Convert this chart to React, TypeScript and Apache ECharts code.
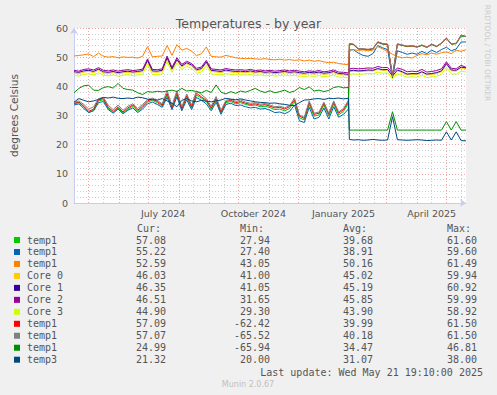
import React, { useEffect, useRef } from 'react';
import * as echarts from 'echarts';

// x = days since 2024-04-16 19:10 (graph spans 400 days, ending Wed May 21 19:10:00 2025)
const DAYS = [
  0, 5, 10, 15, 20, 25, 30, 35, 40, 45, 50, 55, 60, 65, 70, 75, 80, 85, 90, 95,
  100, 105, 110, 115, 120, 125, 130, 135, 140, 145, 150, 155, 160, 165, 170, 175, 180, 185, 190, 195,
  200, 205, 210, 215, 220, 225, 230, 235, 240, 245, 250, 255, 260, 265, 270, 275, 280,
  281, 285, 290, 295, 300, 305, 310, 315, 320, 325, 330, 335, 340, 345, 350, 355, 360, 365, 370, 375, 380, 385, 390, 395, 400,
];

const TEMP1_A = [
  34.0, 34.4, 33.0, 31.0, 31.8, 35.0, 35.4, 32.4, 31.0, 32.6, 30.8, 32.2, 33.2, 31.4, 32.8, 34.6, 35.2, 34.4, 33.2, 37.0,
  32.4, 37.2, 32.0, 36.2, 32.6, 37.0, 36.0, 34.8, 32.2, 35.4, 30.8, 34.4, 34.8, 34.0, 34.4, 33.8, 33.4, 33.6, 33.0, 33.2,
  32.7, 32.0, 32.2, 31.6, 32.4, 34.8, 29.2, 28.5, 33.8, 29.8, 30.2, 33.6, 29.8, 34.0, 30.2, 31.4, 34.2,
  54.4, 54.3, 52.8, 52.7, 52.5, 52.8, 55.0, 54.4, 54.3, 43.5, 54.4, 54.0, 53.6, 53.8, 53.4, 54.0, 53.3, 54.3, 53.6, 54.7, 56.4, 54.4, 54.6, 57.1, 57.08,
];
const TEMP1_B = [
  33.6, 34.0, 32.4, 31.0, 31.6, 34.4, 34.8, 32.0, 30.8, 32.2, 30.6, 31.8, 32.6, 31.0, 32.2, 34.0, 34.6, 33.8, 32.8, 36.2,
  32.0, 36.4, 31.6, 35.4, 32.0, 36.2, 35.2, 34.0, 31.6, 34.6, 30.4, 33.8, 34.2, 33.4, 33.6, 33.0, 32.6, 32.8, 32.2, 32.4,
  31.8, 31.0, 31.2, 30.6, 31.4, 33.6, 28.2, 27.6, 32.8, 28.8, 29.4, 32.6, 28.8, 33.0, 29.4, 30.4, 32.2,
  52.4, 52.6, 51.4, 50.6, 50.3, 51.2, 54.0, 53.2, 52.6, 42.8, 52.2, 51.6, 51.0, 51.4, 51.0, 52.0, 51.2, 52.4, 51.6, 52.6, 53.4, 52.2, 52.8, 55.2, 55.22,
];
const TEMP1_C = [
  50.4, 50.6, 50.8, 51.1, 50.2, 51.4, 50.3, 50.0, 50.2, 49.8, 50.1, 49.9, 50.0, 49.7, 50.3, 53.6, 50.1, 50.3, 50.4, 54.0,
  50.6, 54.3, 52.4, 53.0, 52.1, 50.5, 51.2, 53.5, 50.3, 50.1, 50.0, 50.6, 50.2, 49.8, 49.6, 49.5, 49.6, 49.4, 49.3, 49.5,
  49.2, 49.1, 49.3, 49.0, 49.2, 48.9, 49.1, 48.7, 49.0, 48.6, 48.8, 48.4, 48.1, 48.3, 47.8, 47.6, 47.4,
  52.4, 52.6, 52.3, 52.5, 52.2, 52.4, 53.6, 52.8, 52.0, 51.0, 50.2, 49.8, 50.0, 49.7, 50.6, 51.2, 50.8, 51.4, 51.0, 51.5, 51.8, 51.2, 52.4, 52.0, 52.59,
];
const CORE0 = [
  44.6, 44.3, 44.9, 45.1, 44.7, 45.5, 44.6, 44.4, 44.7, 44.3, 44.6, 44.8, 44.5, 44.7, 45.0, 48.5, 44.9, 44.8, 45.1, 49.5,
  45.6, 48.9, 46.6, 47.7, 46.9, 45.3, 45.7, 48.0, 45.1, 44.9, 44.7, 45.2, 44.9, 44.7, 44.8, 44.6, 44.9, 44.5, 44.7, 44.4,
  44.6, 44.3, 44.5, 44.7, 44.4, 44.6, 44.3, 44.1, 44.4, 44.2, 44.5, 44.1, 44.3, 44.7, 44.0, 43.9, 43.7,
  45.0, 45.2, 45.0, 45.1, 45.3, 45.2, 45.8, 45.4, 45.5, 43.4, 45.3, 44.7, 43.9, 44.1, 44.0, 44.7, 43.9, 44.1, 44.4, 45.0, 47.4, 45.3, 45.2, 46.3, 46.03,
];
const CORE1 = [
  45.0, 44.8, 45.3, 45.5, 45.1, 45.9, 45.0, 44.8, 45.1, 44.7, 45.0, 45.2, 44.9, 45.1, 45.4, 48.9, 45.3, 45.2, 45.5, 49.8,
  46.0, 49.2, 47.0, 48.1, 47.3, 45.7, 46.1, 48.4, 45.5, 45.3, 45.1, 45.6, 45.3, 45.1, 45.2, 45.0, 45.3, 44.9, 45.1, 44.8,
  45.0, 44.7, 44.9, 45.1, 44.8, 45.0, 44.7, 44.5, 44.8, 44.6, 44.9, 44.5, 44.7, 45.1, 44.4, 44.3, 44.1,
  45.3, 45.5, 45.3, 45.4, 45.6, 45.5, 46.1, 45.7, 45.8, 43.6, 45.6, 45.0, 44.2, 44.4, 44.3, 45.0, 44.2, 44.4, 44.7, 45.3, 47.8, 45.6, 45.5, 46.6, 46.35,
];
const CORE2 = [
  45.5, 45.2, 45.8, 46.0, 45.6, 46.4, 45.5, 45.3, 45.6, 45.2, 45.5, 45.7, 45.4, 45.6, 45.9, 49.4, 45.8, 45.7, 46.0, 50.4,
  46.5, 49.8, 47.5, 48.6, 47.8, 46.2, 46.6, 48.9, 46.0, 45.8, 45.6, 46.1, 45.8, 45.6, 45.7, 45.5, 45.8, 45.4, 45.6, 45.3,
  45.5, 45.2, 45.4, 45.6, 45.3, 45.5, 45.2, 45.0, 45.3, 45.1, 45.4, 45.0, 45.2, 45.6, 44.9, 44.8, 44.6,
  46.0, 46.2, 46.0, 46.1, 46.3, 46.2, 46.8, 46.4, 46.5, 44.5, 46.3, 45.8, 45.0, 45.2, 45.0, 45.8, 44.9, 45.1, 45.4, 46.0, 48.4, 46.2, 46.0, 47.2, 46.51,
];
const CORE3 = [
  43.8, 43.5, 44.1, 44.3, 43.9, 44.7, 43.8, 43.6, 43.9, 43.5, 43.8, 44.0, 43.7, 43.9, 44.2, 47.6, 44.1, 44.0, 44.3, 48.6,
  44.8, 48.0, 45.8, 46.9, 46.1, 44.5, 44.9, 47.2, 44.3, 44.1, 43.9, 44.4, 44.1, 43.9, 44.0, 43.8, 44.1, 43.7, 43.9, 43.6,
  43.8, 43.5, 43.7, 43.9, 43.6, 43.8, 43.5, 43.3, 43.6, 43.4, 43.7, 43.3, 43.5, 43.9, 43.2, 43.1, 42.9,
  44.1, 44.3, 44.1, 44.2, 44.4, 44.3, 44.9, 44.5, 44.6, 42.6, 44.4, 43.8, 43.1, 43.3, 43.1, 43.8, 43.0, 43.2, 43.5, 44.1, 46.5, 44.3, 44.2, 45.2, 44.9,
];
const TEMP1_D = [
  34.2, 34.6, 33.2, 31.4, 32.2, 35.4, 35.8, 32.8, 31.4, 33.0, 31.2, 32.6, 33.6, 31.8, 33.2, 35.0, 35.6, 34.8, 33.6, 37.6,
  32.8, 37.8, 32.4, 36.8, 33.0, 37.6, 36.4, 35.2, 32.6, 35.8, 31.2, 34.8, 35.2, 34.4, 34.8, 34.2, 33.8, 34.0, 33.5, 33.7,
  33.2, 32.6, 32.8, 32.2, 33.0, 35.4, 29.8, 29.0, 34.4, 30.4, 30.8, 34.2, 30.4, 34.6, 30.8, 32.0, 34.8,
  54.6, 54.4, 52.9, 52.8, 52.6, 52.9, 55.2, 54.6, 54.4, 43.6, 54.5, 54.1, 53.7, 53.9, 53.5, 54.1, 53.4, 54.4, 53.7, 54.8, 56.5, 54.5, 54.7, 57.6, 57.09,
];
const TEMP1_E = [
  34.5, 35.0, 33.8, 32.2, 33.0, 35.8, 36.2, 33.5, 32.0, 33.6, 31.8, 33.2, 34.0, 32.4, 33.8, 35.4, 36.0, 35.2, 34.0, 38.6,
  33.4, 38.5, 33.0, 37.4, 33.6, 38.4, 37.2, 35.8, 33.2, 36.5, 31.8, 35.2, 35.6, 34.8, 35.3, 34.6, 34.2, 34.4, 33.9, 34.1,
  33.6, 33.0, 33.2, 32.6, 33.4, 36.0, 30.2, 29.4, 35.0, 30.8, 31.2, 34.6, 30.8, 35.0, 31.2, 32.4, 35.2,
  54.7, 54.5, 53.0, 52.9, 52.7, 53.0, 55.3, 54.7, 54.5, 43.3, 54.6, 54.2, 53.8, 54.0, 53.6, 54.2, 53.5, 54.5, 53.8, 54.9, 56.6, 54.6, 54.8, 57.4, 57.07,
];
const TEMP1_F = [
  37.8, 39.3, 40.2, 40.4, 38.7, 38.6, 39.6, 39.9, 39.4, 41.0, 39.3, 38.9, 38.7, 37.8, 37.2, 38.2, 38.0, 38.3, 38.1, 38.4,
  38.7, 38.2, 39.3, 38.4, 38.6, 38.2, 37.8, 38.6, 37.9, 40.5, 38.0, 37.4, 38.2, 37.6, 38.4, 38.0, 38.6, 39.3, 38.4, 37.9,
  38.5, 37.8, 38.2, 38.7, 37.9, 38.4, 39.6, 38.9, 39.8, 38.4, 38.7, 38.2, 38.6, 39.6, 39.9, 39.5, 39.6,
  25.0, 25.0, 25.0, 25.0, 25.0, 25.0, 25.0, 25.0, 25.0, 31.3, 25.0, 25.0, 25.0, 25.0, 25.0, 25.0, 25.0, 25.0, 25.0, 25.0, 27.9, 25.0, 27.9, 25.0, 24.99,
];
const TEMP3 = [
  34.6, 35.8, 35.2, 34.7, 35.0, 35.5, 36.2, 36.0, 36.3, 35.9, 35.8, 36.0, 35.8, 36.3, 36.1, 35.6, 35.4, 35.3, 35.8, 35.0,
  34.2, 33.0, 35.2, 35.8, 35.0, 34.7, 35.2, 34.9, 34.7, 35.0, 35.3, 35.9, 35.6, 35.4, 35.7, 35.3, 35.0, 34.7, 34.5, 34.4,
  34.2, 34.3, 34.0, 33.8, 33.5, 33.4, 34.4, 35.3, 35.4, 35.7, 35.8, 35.5, 35.9, 35.8, 36.0, 35.7, 35.9,
  21.8, 21.6, 21.7, 21.5, 21.6, 21.8, 21.6, 21.5, 21.6, 29.6, 21.7, 21.6, 21.5, 21.6, 21.7, 21.6, 21.4, 21.5, 21.6, 21.5, 24.4, 21.6, 24.4, 21.4, 21.32,
];

const SERIES_VALUES = [TEMP1_A, TEMP1_B, TEMP1_C, CORE0, CORE1, CORE2, CORE3, TEMP1_D, TEMP1_E, TEMP1_F, TEMP3];
const SERIES_NAMES = ['temp1', 'temp1', 'temp1', 'Core 0', 'Core 1', 'Core 2', 'Core 3', 'temp1', 'temp1', 'temp1', 'temp3'];
const COLORS = ['#00CC00', '#0066B3', '#FF8000', '#FFCC00', '#330099', '#990099', '#CCFF00', '#FF0000', '#808080', '#008F00', '#00487D'];

const CUR = ['57.08', '55.22', '52.59', '46.03', '46.35', '46.51', '44.90', '57.09', '57.07', '24.99', '21.32'];
const MIN = ['27.94', '27.40', '43.05', '41.00', '41.05', '31.65', '29.30', '-62.42', '-65.52', '-65.94', '20.00'];
const AVG = ['39.68', '38.91', '50.16', '45.02', '45.19', '45.85', '43.90', '39.99', '40.18', '34.47', '31.07'];
const MAX = ['61.60', '59.60', '61.49', '59.94', '60.92', '59.99', '58.92', '61.50', '61.50', '46.81', '38.00'];
const HEADERS = ['Cur:', 'Min:', 'Avg:', 'Max:'];

// month starts (major grid) and mid-months (minor grid), in days since start
const MONTH_STARTS = [15, 46, 76, 107, 138, 168, 199, 229, 260, 291, 319, 350, 380];
const MID_MONTHS = [30, 61, 91, 122, 153, 183, 214, 244, 275, 306, 334, 365, 395];
const LABEL_DAYS = [91, 183, 275, 365];
const X_LABELS = ['July 2024', 'October 2024', 'January 2025', 'April 2025'];

const TITLE = 'Temperatures - by year';
const Y_NAME = 'degrees Celsius';
const LAST_UPDATE = 'Last update: Wed May 21 19:10:00 2025';
const VERSION = 'Munin 2.0.67';
const SIDE_TEXT = 'RRDTOOL / TOBI OETIKER';

const SANS = '"DejaVu Sans", sans-serif';
const MONO = '"DejaVu Sans Mono", monospace';
const TEXT_COLOR = '#555555';
const AXIS_COLOR = '#c6cdf0';
const MAJOR_GRID = '#eaa6a6';
const MINOR_GRID = '#cfcfcf';

function txt(x: number, y: number, text: string, align: string, color = TEXT_COLOR, size = 10, family = MONO) {
  return {
    type: 'text',
    x,
    y,
    silent: true,
    style: {
      text,
      fill: color,
      fontSize: size,
      fontFamily: family,
      align,
      textAlign: align,
      verticalAlign: 'middle',
      textVerticalAlign: 'middle',
    },
  };
}

export default function App() {
  const ref = useRef<HTMLDivElement>(null);

  useEffect(() => {
    if (!ref.current) return;
    const chart = echarts.init(ref.current, undefined, { renderer: 'svg' });

    const graphic: any[] = [];
    const colX = [137, 240, 343, 447];
    const colR = [166, 270, 373, 477];
    HEADERS.forEach((h, k) => graphic.push(txt(colX[k], 228, h, 'left')));
    SERIES_NAMES.forEach((name, i) => {
      const cy = 240 + i * 11.97;
      graphic.push({
        type: 'rect',
        silent: true,
        shape: { x: 14, y: cy - 3, width: 6, height: 6 },
        style: { fill: COLORS[i] },
      });
      graphic.push(txt(27, cy, name, 'left'));
      graphic.push(txt(colR[0], cy, CUR[i], 'right'));
      graphic.push(txt(colR[1], cy, MIN[i], 'right'));
      graphic.push(txt(colR[2], cy, AVG[i], 'right'));
      graphic.push(txt(colR[3], cy, MAX[i], 'right'));
    });
    graphic.push(txt(483, 372, LAST_UPDATE, 'right'));
    graphic.push(txt(248, 384, VERSION, 'center', '#c0c0c0', 8, SANS));
    graphic.push({
      type: 'text',
      x: 487,
      y: 53,
      rotation: -Math.PI / 2,
      silent: true,
      style: {
        text: SIDE_TEXT,
        fill: '#cccccc',
        fontSize: 7.5,
        fontFamily: SANS,
        align: 'center',
        textAlign: 'center',
        verticalAlign: 'middle',
        textVerticalAlign: 'middle',
      },
    });

    const gridLines = [
      ...MID_MONTHS.map((d) => ({ xAxis: d, lineStyle: { color: MINOR_GRID, width: 1, type: [1, 2] } })),
      ...MONTH_STARTS.map((d) => ({ xAxis: d, lineStyle: { color: MAJOR_GRID, width: 1, type: [1, 2] } })),
    ];

    const series: any[] = SERIES_VALUES.map((vals, i) => ({
      type: 'line',
      name: SERIES_NAMES[i],
      data: DAYS.map((d, j) => [d, vals[j]]),
      showSymbol: false,
      symbol: 'none',
      silent: true,
      clip: true,
      lineStyle: { width: 1, color: COLORS[i] },
      itemStyle: { color: COLORS[i] },
    }));
    series[0].markLine = {
      z: 1,
      silent: true,
      symbol: ['none', 'none'],
      label: { show: false },
      emphasis: { disabled: true },
      data: gridLines,
    };

    chart.setOption({
      animation: false,
      backgroundColor: '#F0F0F0',
      title: {
        text: TITLE,
        left: 'center',
        top: 12,
        textStyle: { fontFamily: SANS, fontSize: 12.5, fontWeight: 'normal', color: TEXT_COLOR },
      },
      grid: { left: 66, top: 28, width: 400, height: 175, show: true, backgroundColor: '#ffffff', borderWidth: 0 },
      xAxis: {
        type: 'value',
        min: 0,
        max: 400,
        axisLine: {
          show: true,
          lineStyle: { color: AXIS_COLOR, width: 1 },
          symbol: ['none', 'arrow'],
          symbolSize: [6, 6],
        },
        axisTick: { show: false },
        axisLabel: {
          customValues: LABEL_DAYS,
          formatter: (v: number) => {
            const k = LABEL_DAYS.indexOf(v);
            return k >= 0 ? X_LABELS[k] : '';
          },
          fontFamily: SANS,
          fontSize: 9.5,
          color: TEXT_COLOR,
          margin: 5,
        },
        splitLine: { show: false },
      },
      yAxis: {
        type: 'value',
        min: 0,
        max: 60,
        interval: 10,
        name: Y_NAME,
        nameLocation: 'middle',
        nameRotate: 90,
        nameGap: 55,
        nameTextStyle: { fontFamily: SANS, fontSize: 10.5, color: TEXT_COLOR },
        axisLine: {
          show: true,
          lineStyle: { color: AXIS_COLOR, width: 1 },
          symbol: ['none', 'arrow'],
          symbolSize: [6, 6],
        },
        axisTick: { show: false },
        axisLabel: { fontFamily: SANS, fontSize: 9.5, color: TEXT_COLOR, margin: 6 },
        splitLine: { show: true, lineStyle: { color: MAJOR_GRID, width: 1, type: [1, 2] } },
        minorTick: { show: false, splitNumber: 5 },
        minorSplitLine: { show: true, lineStyle: { color: MINOR_GRID, width: 1, type: [1, 2] } },
      },
      series,
      graphic,
    });

    return () => chart.dispose();
  }, []);

  return (
    <div
      ref={ref}
      style={{ position: 'fixed', left: 0, top: 0, width: 497, height: 395, background: '#F0F0F0' }}
    />
  );
}
